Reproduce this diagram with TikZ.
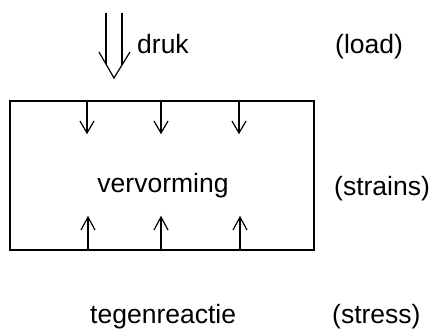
\documentclass[tikz,border=0pt]{standalone}
\usepackage{fontspec}
\setmainfont{Liberation Sans}
\begin{document}
\begin{tikzpicture}[x=1pt,y=-1pt,
  lbl/.style={inner sep=0pt,font=\fontsize{26.5}{31}\selectfont},
  force/.style={line width=1.2pt,line join=miter},
  frame/.style={line width=1.4pt}]
  \useasboundingbox (0,0) rectangle (430,330);
  % loaded block
  \draw[frame] (10,101) rectangle (314,250);
  % double load arrow on top
  \coordinate (tip) at (114,78);
  \draw[force] (106,13) -- (106,64) (122,13) -- (122,65);
  \draw[force] (99,52) -- (tip) -- (130,52);
  % strain arrows from the top face, open heads
  \foreach \x/\n in {87/a,161/b,239/c}{
    \coordinate (t\n) at (\x,101);
    \coordinate (m\n) at (\x,133);
    \draw[force] (t\n) -- (m\n);
    \draw[force] ([xshift=-7pt,yshift=12pt]m\n) -- (m\n) -- ([xshift=7pt,yshift=12pt]m\n);
  }
  % reaction arrows from the bottom face, open heads
  \foreach \x/\n in {88/a,161/b,240/c}{
    \coordinate (b\n) at (\x,250);
    \coordinate (u\n) at (\x,217);
    \draw[force] (b\n) -- (u\n);
    \draw[force] ([xshift=-7pt,yshift=-13pt]u\n) -- (u\n) -- ([xshift=7pt,yshift=-13pt]u\n);
  }
  % labels
  \node[lbl,anchor=base west] (druk) at (137,53) {druk};
  \node[lbl,anchor=base west] (load) at (335,53) {(load)};
  \node[lbl,anchor=base] (verv) at (163,192) {vervorming};
  \node[lbl,anchor=base west] (strains) at (334,195) {(strains)};
  \node[lbl,anchor=base west] (tegen) at (90,323) {tegenreactie};
  \node[lbl,anchor=base west] (stress) at (332,323) {(stress)};
\end{tikzpicture}
\end{document}
